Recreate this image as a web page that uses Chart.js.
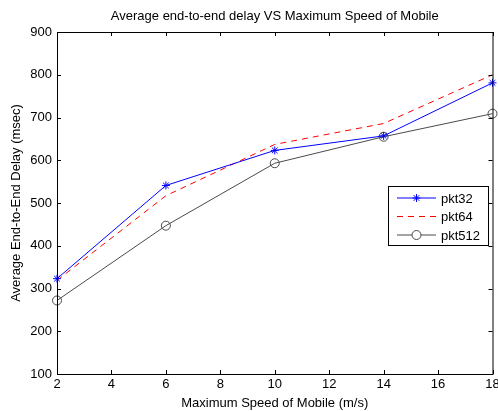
<!DOCTYPE html>
<html>
<head>
<meta charset="utf-8">
<script src="https://cdn.jsdelivr.net/npm/chart.js@4.4.1/dist/chart.umd.min.js"></script>
<style>
  html, body { margin: 0; padding: 0; background: #fff; }
  canvas { display: block; }
</style>
</head>
<body>
<canvas id="delayChart" width="498" height="411"></canvas>
<script>
// data
const speeds = [2, 6, 10, 14, 18];
const pkt32 = [323, 541, 623, 657, 781];
const pkt64 = [319, 517, 637, 686, 800];
const pkt512 = [272, 447, 593, 655, 709];
const xTicks = [2, 4, 6, 8, 10, 12, 14, 16, 18];
const yTicks = [100, 200, 300, 400, 500, 600, 700, 800, 900];
const chartTitle = "Average end-to-end delay VS Maximum Speed of Mobile";

const FONT = "'Liberation Sans', Arial, Helvetica, sans-serif";

// MATLAB style box with inward ticks on all four sides, title over the axes
const boxPlugin = {
  id: "boxPlugin",
  afterDatasetsDraw(chart) {
    const { ctx, chartArea: a, scales } = chart;
    ctx.save();
    ctx.strokeStyle = "#000";
    ctx.lineWidth = 1;
    ctx.strokeRect(a.left + 0.5, a.top + 0.5, a.right - a.left, a.bottom - a.top);
    ctx.beginPath();
    xTicks.forEach((v) => {
      const x = Math.round(scales.x.getPixelForValue(v)) + 0.5;
      ctx.moveTo(x, a.bottom); ctx.lineTo(x, a.bottom - 4);
      ctx.moveTo(x, a.top); ctx.lineTo(x, a.top + 4);
    });
    yTicks.forEach((v) => {
      const y = Math.round(scales.y.getPixelForValue(v)) + 0.5;
      ctx.moveTo(a.left, y); ctx.lineTo(a.left + 4, y);
      ctx.moveTo(a.right, y); ctx.lineTo(a.right - 4, y);
    });
    ctx.stroke();

    ctx.fillStyle = "#000";
    ctx.font = "13px " + FONT;
    ctx.textAlign = "center";
    ctx.textBaseline = "middle";
    ctx.fillText(chartTitle, (a.left + a.right) / 2, 16);
    ctx.restore();
  },
};

// legend box drawn inside the plot, right side
const legendPlugin = {
  id: "boxLegend",
  afterDraw(chart) {
    const { ctx } = chart;
    const x0 = 388, y0 = 186, w = 100, h = 59;
    ctx.save();
    ctx.fillStyle = "#fff";
    ctx.fillRect(x0, y0, w, h);
    ctx.strokeStyle = "#000";
    ctx.lineWidth = 1;
    ctx.strokeRect(x0 + 0.5, y0 + 0.5, w, h);
    ctx.font = "13px " + FONT;
    ctx.textBaseline = "middle";
    chart.data.datasets.forEach((ds, i) => {
      const y = y0 + 12 + i * 18.5;
      ctx.strokeStyle = ds.borderColor;
      ctx.lineWidth = 1;
      ctx.setLineDash(ds.borderDash || []);
      ctx.beginPath();
      ctx.moveTo(397, y);
      ctx.lineTo(436, y);
      ctx.stroke();
      ctx.setLineDash([]);
      if (ds.pointRadius > 0) {
        ctx.fillStyle = "#fff";
        Chart.helpers.drawPoint(ctx, {
          pointStyle: ds.pointStyle,
          radius: ds.pointRadius,
          rotation: 0,
          borderWidth: 1,
        }, 416.5, y);
      }
      ctx.fillStyle = "#000";
      ctx.fillText(ds.label, 441, y + 1);
    });
    ctx.restore();
  },
};

const ctx = document.getElementById("delayChart").getContext("2d");

new Chart(ctx, {
  type: "line",
  data: {
    labels: speeds,
    datasets: [
      {
        label: "pkt32",
        data: speeds.map((s, i) => ({ x: s, y: pkt32[i] })),
        borderColor: "#0000ff",
        backgroundColor: "#0000ff",
        borderWidth: 1,
        pointStyle: "star",
        pointRadius: 4,
        pointBorderWidth: 1,
      },
      {
        label: "pkt64",
        data: speeds.map((s, i) => ({ x: s, y: pkt64[i] })),
        borderColor: "#ff0000",
        backgroundColor: "#ff0000",
        borderWidth: 1,
        borderDash: [6, 5],
        pointRadius: 0,
      },
      {
        label: "pkt512",
        data: speeds.map((s, i) => ({ x: s, y: pkt512[i] })),
        borderColor: "#4a4a4a",
        backgroundColor: "rgba(255,255,255,0)",
        borderWidth: 1,
        pointStyle: "circle",
        pointRadius: 4.5,
        pointBorderWidth: 1,
      },
    ],
  },
  options: {
    responsive: false,
    animation: false,
    clip: false,
    layout: { padding: { top: 32, right: 5, left: 0, bottom: 0 } },
    elements: { line: { tension: 0 } },
    plugins: {
      legend: { display: false },
      tooltip: { enabled: false },
      title: { display: false },
    },
    scales: {
      x: {
        type: "linear",
        min: 2,
        max: 18,
        afterFit: (scale) => {
          scale.height = 37;
          scale.paddingLeft = 0;
          scale.paddingRight = 0;
        },
        afterBuildTicks: (scale) => { scale.ticks = xTicks.map((v) => ({ value: v })); },
        grid: { display: false, drawTicks: false },
        border: { display: false },
        ticks: {
          color: "#000",
          font: { family: FONT, size: 13 },
          padding: 3,
          maxRotation: 0,
        },
        title: {
          display: true,
          text: "Maximum Speed of Mobile (m/s)",
          color: "#000",
          font: { family: FONT, size: 13 },
          padding: { top: 0, bottom: 0 },
        },
      },
      y: {
        min: 100,
        max: 900,
        afterFit: (scale) => {
          scale.width = 57;
          scale.paddingTop = 0;
          scale.paddingBottom = 0;
        },
        afterBuildTicks: (scale) => { scale.ticks = yTicks.map((v) => ({ value: v })); },
        grid: { display: false, drawTicks: false },
        border: { display: false },
        ticks: {
          color: "#000",
          font: { family: FONT, size: 13 },
          padding: 5,
        },
        title: {
          display: true,
          text: "Average End-to-End Delay (msec)",
          color: "#000",
          font: { family: FONT, size: 13 },
          padding: { top: 9, bottom: 0 },
        },
      },
    },
  },
  plugins: [boxPlugin, legendPlugin],
});
</script>
</body>
</html>
